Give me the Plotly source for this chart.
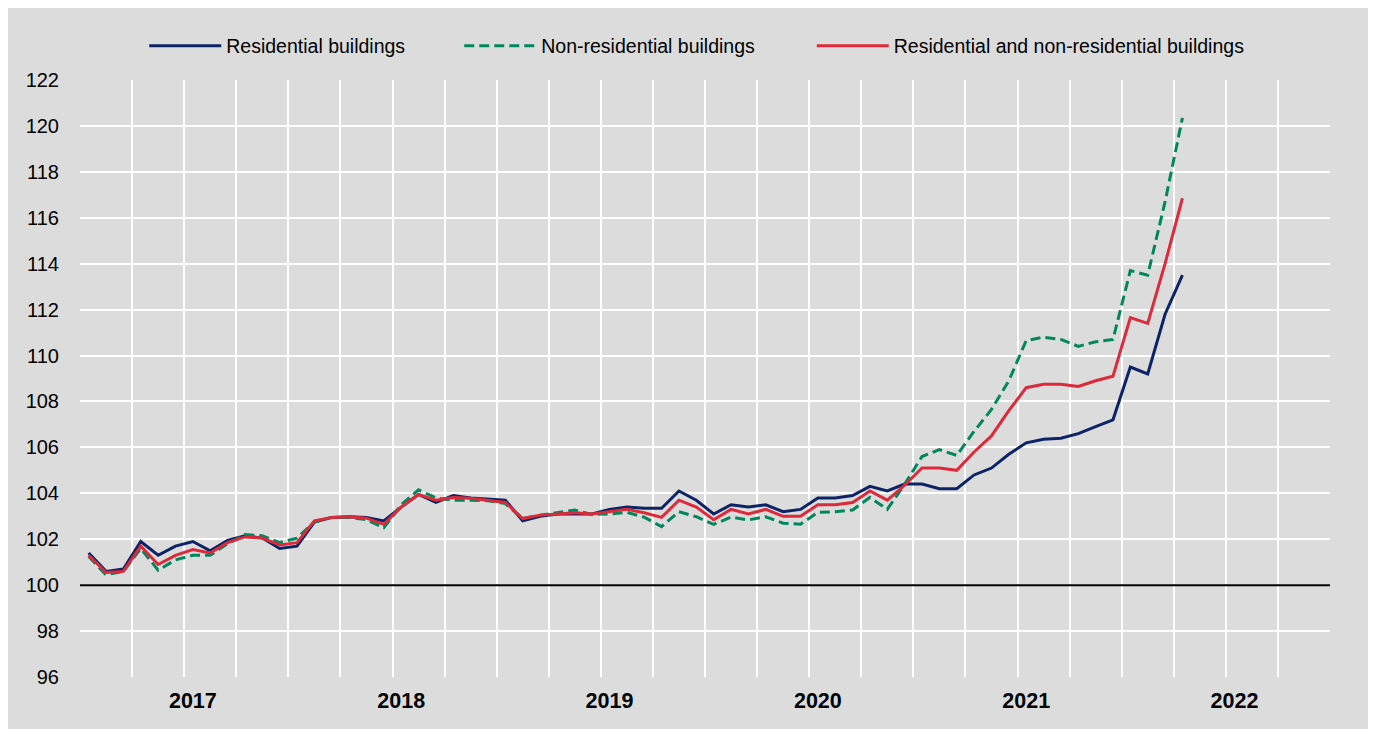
import plotly.graph_objects as go

# Monthly observations, Jan 2017 - Apr 2022
all_months = [f"{y}-{m:02d}" for y in range(2017, 2023) for m in range(1, 13)]
months = all_months[:64]
years = ["2017", "2018", "2019", "2020", "2021", "2022"]

residential = [
    101.4, 100.6, 100.7, 101.9, 101.3, 101.7, 101.9, 101.5, 101.95, 102.15, 102.05, 101.6,
    101.7, 102.75, 102.95, 102.98, 102.95, 102.8, 103.4, 103.95, 103.6, 103.9, 103.8, 103.75,
    103.7, 102.8, 103.0, 103.1, 103.1, 103.1, 103.3, 103.4, 103.35, 103.35, 104.1, 103.7,
    103.1, 103.5, 103.4, 103.5, 103.2, 103.3, 103.8, 103.8, 103.9, 104.3, 104.1, 104.4,
    104.4, 104.2, 104.2, 104.8, 105.1, 105.7, 106.2, 106.35, 106.4, 106.6, 106.9, 107.2,
    109.5, 109.2, 111.8, 113.5,
]
non_residential = [
    101.25, 100.45, 100.6, 101.6, 100.65, 101.1, 101.3, 101.3, 101.8, 102.2, 102.15, 101.85,
    102.05, 102.75, 102.95, 102.95, 102.85, 102.5, 103.5, 104.15, 103.8, 103.7, 103.7, 103.68,
    103.55, 102.9, 103.05, 103.15, 103.27, 103.08, 103.1, 103.17, 102.96, 102.55, 103.2, 102.98,
    102.65, 102.96, 102.84, 102.98, 102.7, 102.65, 103.17, 103.2, 103.27, 103.82, 103.3, 104.4,
    105.6, 105.9, 105.65, 106.7, 107.65, 108.9, 110.65, 110.8, 110.7, 110.4, 110.6, 110.7,
    113.7, 113.5, 116.7, 120.35,
]
total = [
    101.3, 100.55, 100.6, 101.7, 100.9, 101.3, 101.55, 101.4, 101.85, 102.1, 102.05, 101.75,
    101.85, 102.8, 102.95, 102.98, 102.92, 102.65, 103.4, 103.95, 103.7, 103.82, 103.78, 103.7,
    103.6, 102.9, 103.05, 103.1, 103.15, 103.1, 103.2, 103.3, 103.15, 102.95, 103.7, 103.4,
    102.85, 103.3, 103.1, 103.3, 103.0, 103.0, 103.5, 103.5, 103.6, 104.1, 103.7, 104.35,
    105.1, 105.1, 105.0, 105.8, 106.5, 107.6, 108.6, 108.75, 108.75, 108.65, 108.9, 109.1,
    111.65, 111.4, 114.0, 116.85,
]

x_idx = list(range(len(months)))
year_pos = [all_months.index(f"{y}-07") for y in years]
quarter_bounds = [i - 0.5 for i in range(0, len(all_months) + 1, 3)]

NAVY = "#0c2466"
GREEN = "#00875c"
RED = "#dc2a3a"
BG = "#dcdcdc"
FONT = "Liberation Sans, Arial, sans-serif"

fig = go.Figure()
fig.add_trace(go.Scatter(x=x_idx, y=residential, mode="lines", name="Residential buildings",
                         line=dict(color=NAVY, width=3), customdata=months, legend="legend",
                         hovertemplate="%{customdata}: %{y}<extra></extra>"))
fig.add_trace(go.Scatter(x=x_idx, y=non_residential, mode="lines", name="Non-residential buildings",
                         line=dict(color=GREEN, width=3, dash="10px,5px"), customdata=months,
                         legend="legend2",
                         hovertemplate="%{customdata}: %{y}<extra></extra>"))
fig.add_trace(go.Scatter(x=x_idx, y=total, mode="lines",
                         name="Residential and non-residential buildings",
                         line=dict(color=RED, width=3), customdata=months, legend="legend3",
                         hovertemplate="%{customdata}: %{y}<extra></extra>"))

# reference line at 100
fig.add_shape(type="line", xref="paper", yref="y", x0=0, x1=1, y0=100, y1=100,
              line=dict(color="black", width=2), layer="above")

leg_common = dict(orientation="h", xanchor="left", y=1.057, yanchor="middle",
                  bgcolor="rgba(0,0,0,0)", font=dict(size=19.5), itemwidth=72)

fig.update_layout(
    width=1376, height=729,
    margin=dict(l=72, r=54, t=72, b=60),
    paper_bgcolor=BG,
    plot_bgcolor=BG,
    font=dict(family=FONT, size=20, color="black"),
    showlegend=True,
    legend=dict(x=0.0514, **leg_common),
    legend2=dict(x=0.3034, **leg_common),
    legend3=dict(x=0.5854, **leg_common),
    xaxis=dict(
        range=[-0.5, len(all_months) - 0.5],
        tickmode="array", tickvals=year_pos, ticktext=years,
        tickfont=dict(family=FONT, size=21.5, weight="bold"),
        showgrid=False, zeroline=False, showline=False, ticks="",
        ticklabelstandoff=8,
        minor=dict(tickmode="array", tickvals=quarter_bounds, showgrid=True,
                   gridcolor="white", gridwidth=2, ticks=""),
    ),
    yaxis=dict(
        range=[96, 122], tickmode="linear", tick0=96, dtick=2,
        showgrid=True, gridcolor="white", gridwidth=2,
        zeroline=False, showline=False, ticks="",
        tickfont=dict(family=FONT, size=20),
        ticklabelstandoff=20,
    ),
)

fig.write_html("out.html")
